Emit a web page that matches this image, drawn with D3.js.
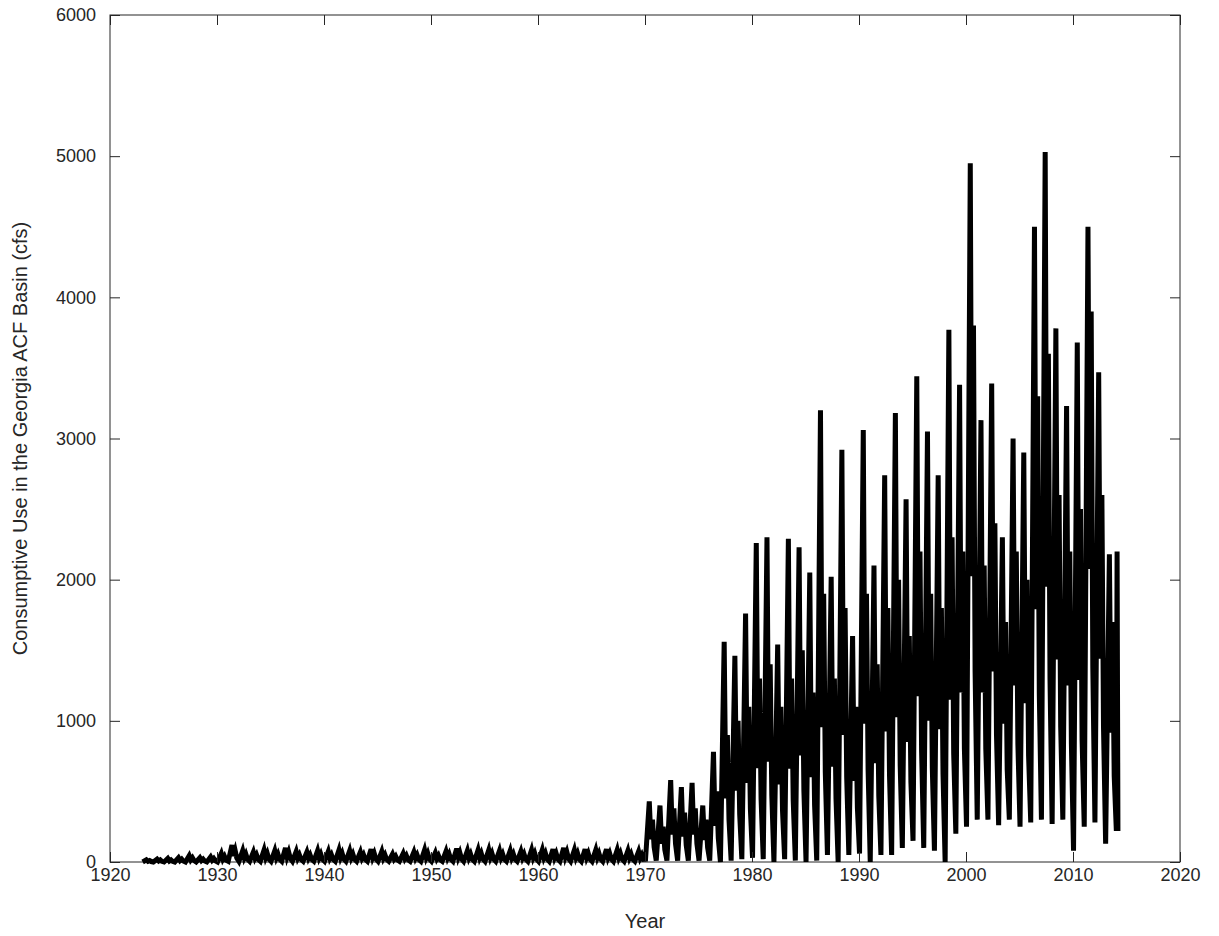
<!DOCTYPE html>
<html><head><meta charset="utf-8">
<script src="https://cdn.jsdelivr.net/npm/d3@7"></script>
<style>body{margin:0;background:#fff}text{font-family:"Liberation Sans",Arial,sans-serif}</style>
</head><body><svg id="chart" width="1219" height="936"></svg>
<script>
// years covered, one seasonal cycle per year
const years = d3.range(1923, 2015);
// main summer peak per year (cfs)
const peaks = [15,20,25,30,45,30,35,60,120,80,70,85,80,100,75,70,80,75,85,80,70,90,75,55,60,70,85,65,75,95,80,85,85,80,80,75,85,85,90,100,85,90,85,90,85,80,75,
  430,400,580,530,560,400,780,1560,1460,1760,2260,2300,1540,2290,2230,2050,3200,2020,2920,1600,3060,2100,2740,3180,2570,3440,3050,2740,3770,3380,
  4950,3130,3390,2300,3000,2900,4500,5030,3780,3230,3680,4500,3470,2180,2200];
// secondary late-summer peak per year
const second = [10,15,15,20,30,20,25,40,80,55,50,60,55,70,50,50,55,50,60,55,50,60,50,40,45,50,60,45,55,65,55,60,60,55,55,55,60,60,60,70,60,60,60,60,60,55,50,
  300,250,380,350,380,300,500,900,1000,1100,1300,1400,1100,1300,1500,1200,1900,1300,1800,1100,1900,1400,1800,2000,1600,2200,1900,1800,2300,2200,
  3800,2100,2400,1700,2200,2000,3300,3600,2600,2200,2500,3900,2600,1700,2000];
// winter low per year
const lows = [0,0,0,0,0,0,0,0,5,5,5,5,5,5,5,5,5,5,5,5,5,5,5,5,5,5,5,5,5,5,5,5,5,5,5,5,5,5,5,5,5,5,5,5,5,5,5,
  20,10,10,10,10,10,10,0,10,20,30,20,0,20,10,0,10,50,0,50,60,0,50,50,100,150,100,80,0,200,
  250,300,300,260,300,250,280,300,270,300,80,250,280,130,220];
const yTicks = [0,1000,2000,3000,4000,5000,6000];
const xTicks = d3.range(1920, 2021, 10);

// series of points: low, peak, dip, second peak for each year
const series = [];
years.forEach((yr, i) => {
  series.push({t: yr + 0.05, v: lows[i]});
  if (i === years.length - 1) {
    // record stops early in the last year
    series.push({t: yr + 0.12, v: peaks[i]});
    series.push({t: yr + 0.2, v: lows[i]});
    return;
  }
  series.push({t: yr + 0.4, v: peaks[i]});
  series.push({t: yr + 0.55, v: (lows[i] + second[i]) / 2});
  series.push({t: yr + 0.7, v: second[i]});
  series.push({t: yr + 0.85, v: (lows[i] + second[i]) / 3});
});

const svg = d3.select("#chart");
const L = 110, R = 1180, T = 15, B = 862;
const x = d3.scaleLinear().domain([1920, 2020]).range([L, R]);
const y = d3.scaleLinear().domain([0, 6000]).range([B, T]);
const grey = "#262626";

svg.append("rect").attr("x", L).attr("y", T).attr("width", R - L).attr("height", B - T)
   .attr("fill", "none").attr("stroke", grey).attr("stroke-width", 1);

svg.append("path").datum(series)
   .attr("d", d3.line().x(d => x(d.t)).y(d => y(d.v)))
   .attr("fill", "none").attr("stroke", "#000").attr("stroke-width", 5)
   .attr("stroke-linejoin", "miter");

// ticks inside the box, MATLAB style
svg.append("g").attr("transform", `translate(0,${B})`)
   .call(d3.axisBottom(x).tickValues(xTicks).tickFormat(d3.format("d")).tickSizeInner(-10).tickSizeOuter(0).tickPadding(6))
   .call(g => g.select(".domain").remove());
svg.append("g").attr("transform", `translate(${L},0)`)
   .call(d3.axisLeft(y).tickValues(yTicks).tickFormat(d3.format("d")).tickSizeInner(-10).tickSizeOuter(0).tickPadding(14))
   .call(g => g.select(".domain").remove());
svg.append("g").attr("transform", `translate(0,${T})`)
   .call(d3.axisTop(x).tickValues(xTicks).tickSizeInner(-10).tickSizeOuter(0).tickFormat(""))
   .call(g => g.select(".domain").remove());
svg.append("g").attr("transform", `translate(${R},0)`)
   .call(d3.axisRight(y).tickValues(yTicks).tickSizeInner(-10).tickSizeOuter(0).tickFormat(""))
   .call(g => g.select(".domain").remove());
svg.selectAll(".tick line").attr("stroke", grey);
svg.selectAll(".tick text").attr("fill", grey).style("font-size", "18px");

svg.append("text").attr("x", (L + R) / 2).attr("y", 928).attr("text-anchor", "middle")
   .attr("fill", grey).style("font-size", "20px").text("Year");
svg.append("text").attr("transform", `translate(27,${(T + B) / 2}) rotate(-90)`).attr("text-anchor", "middle")
   .attr("fill", grey).style("font-size", "20px").text("Consumptive Use in the Georgia ACF Basin (cfs)");
</script></body></html>
